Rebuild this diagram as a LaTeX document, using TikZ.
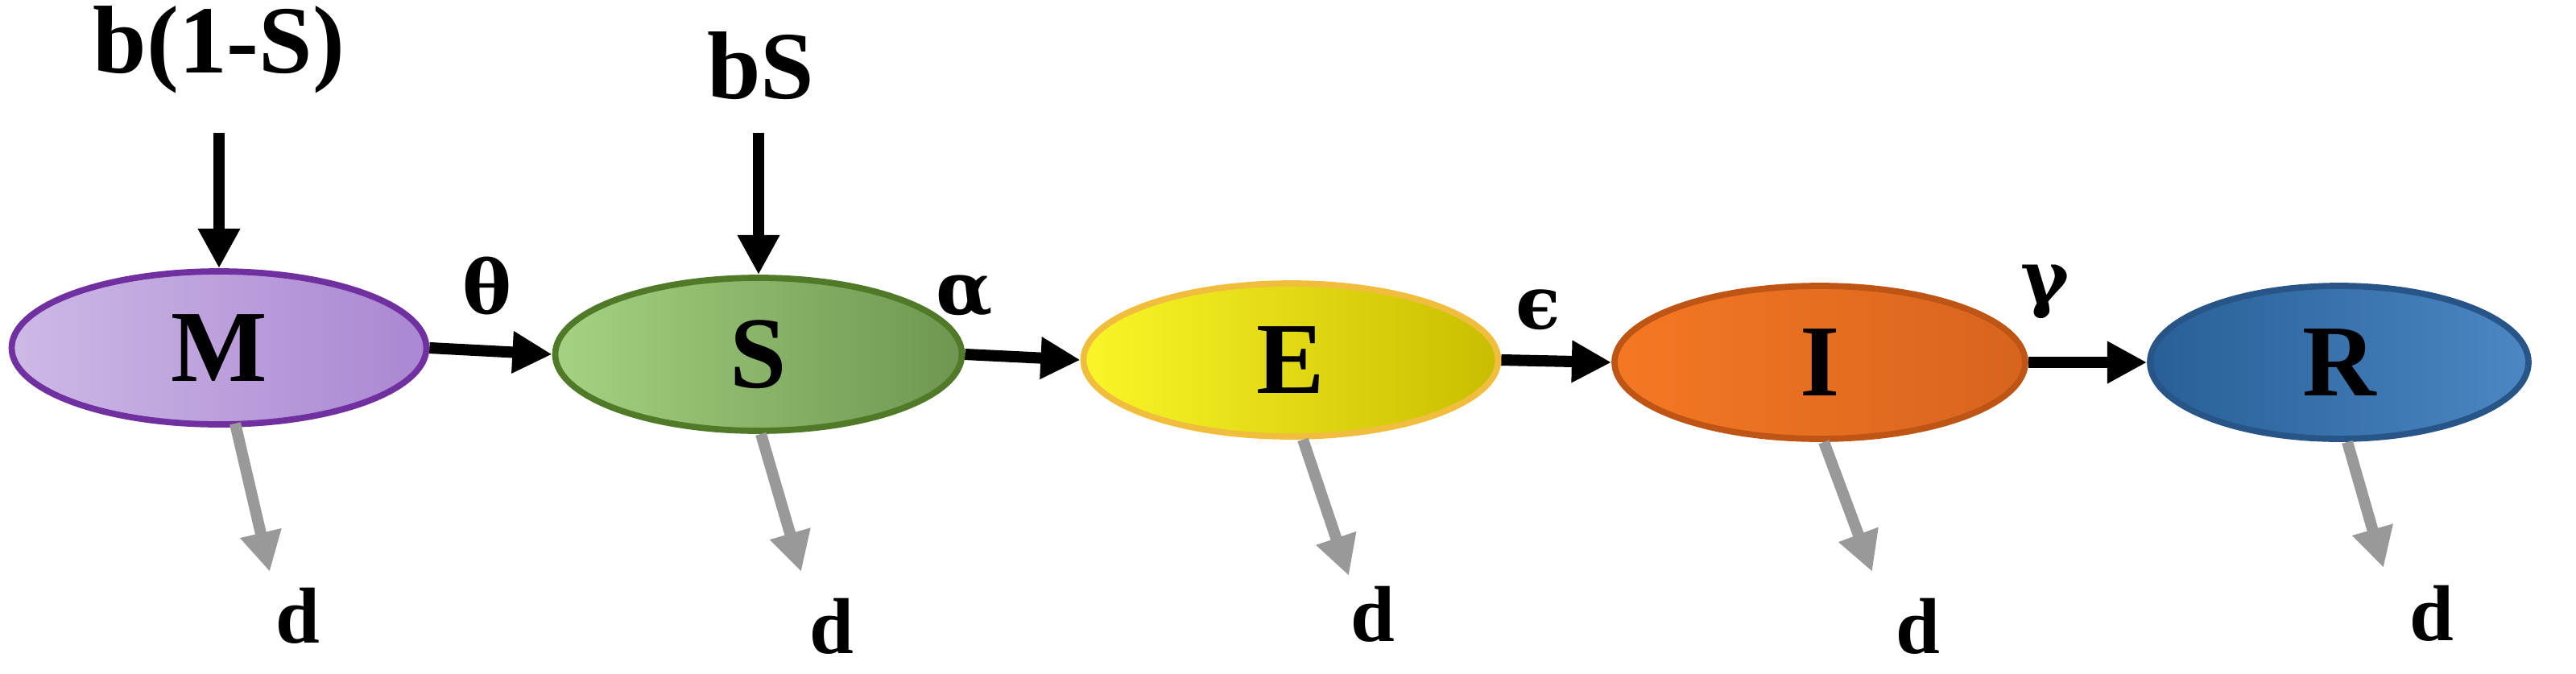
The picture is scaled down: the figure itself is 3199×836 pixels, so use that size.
\documentclass[tikz,border=0pt]{standalone}
\usepackage{fontspec}
\setmainfont{Liberation Serif}
\newfontfamily\gfont{DejaVu Serif}
\usetikzlibrary{arrows.meta,shapes.geometric}
\definecolor{mB}{RGB}{112,48,160}\definecolor{mL}{RGB}{205,185,230}\definecolor{mR}{RGB}{170,135,210}
\definecolor{sB}{RGB}{80,122,40}\definecolor{sL}{RGB}{165,210,130}\definecolor{sR}{RGB}{110,150,80}
\definecolor{eB}{RGB}{240,190,60}\definecolor{eL}{RGB}{250,245,40}\definecolor{eR}{RGB}{200,190,0}
\definecolor{iB}{RGB}{190,85,20}\definecolor{iL}{RGB}{245,120,35}\definecolor{iR}{RGB}{215,100,30}
\definecolor{rB}{RGB}{40,85,135}\definecolor{rL}{RGB}{40,95,150}\definecolor{rR}{RGB}{75,135,195}
\begin{document}
\begin{tikzpicture}[x=0.01cm,y=-0.01cm,
  comp/.style={ellipse,draw,line width=2.2pt,minimum width=#1*0.01cm,minimum height=190*0.01cm,font=\fontsize{36}{40}\selectfont\bfseries},
  flow/.style={-{Triangle[length=14pt,width=14pt]},line width=4pt,black},
  death/.style={-{Triangle[length=14pt,width=14pt]},line width=4pt,gray!80},
  lbl/.style={font=\fontsize{34}{38}\selectfont\bfseries},
  gl/.style={font=\fontsize{26}{30}\selectfont\bfseries},
  dl/.style={font=\fontsize{28}{32}\selectfont\bfseries}]
\useasboundingbox (0,0) rectangle (3199,836);
\node[comp=515,draw=mB,left color=mL,right color=mR] (M) at (272,432) {M};
\node[comp=505,draw=sB,left color=sL,right color=sR] (S) at (942,440) {S};
\node[comp=515,draw=eB,left color=eL,right color=eR] (E) at (1603,447) {E};
\node[comp=510,draw=iB,left color=iL,right color=iR] (I) at (2260,450) {I};
\node[comp=470,draw=rB,left color=rL,right color=rR] (R) at (2905,450) {R};
\node[lbl] (tb1) at (272,62) {b(1-S)};
\node[lbl] (tb2) at (945,82) {bS};
\coordinate (a1) at (272,165);
\coordinate (a2) at (942,165);
\draw[flow] (a1) -- (M.north);
\draw[flow] (a2) -- (S.north);
\draw[flow] (M.east) -- (S.west);
\draw[flow] (S.east) -- (E.west);
\draw[flow] (E.east) -- (I.west);
\draw[flow] (I.east) -- (R.west);
\node[gl] (l1) at (605,355) {{\gfont θ}};
\node[gl] (l2) at (1198,368) {{\gfont α}};
\node[gl] (l3) at (1910,385) {{\gfont ϵ}};
\node[gl] (l4) at (2540,362) {{\gfont γ}};
\coordinate (m1) at (335,710);
\coordinate (s1) at (995,710);
\coordinate (e1) at (1675,715);
\coordinate (i1) at (2325,710);
\coordinate (r1) at (2960,705);
\draw[death] ([xshift=0.2cm,yshift=0.05cm]M.south) -- (m1);
\draw[death] ([xshift=0.03cm]S.south) -- (s1);
\draw[death] ([xshift=0.15cm]E.south) -- (e1);
\draw[death] ([xshift=0.05cm]I.south) -- (i1);
\draw[death] ([xshift=0.1cm]R.south) -- (r1);
\node[dl] (d1) at (370,765) {d};
\node[dl] (d2) at (1033,778) {d};
\node[dl] (d3) at (1705,763) {d};
\node[dl] (d4) at (2382,778) {d};
\node[dl] (d5) at (3020,762) {d};
\end{tikzpicture}
\end{document}
